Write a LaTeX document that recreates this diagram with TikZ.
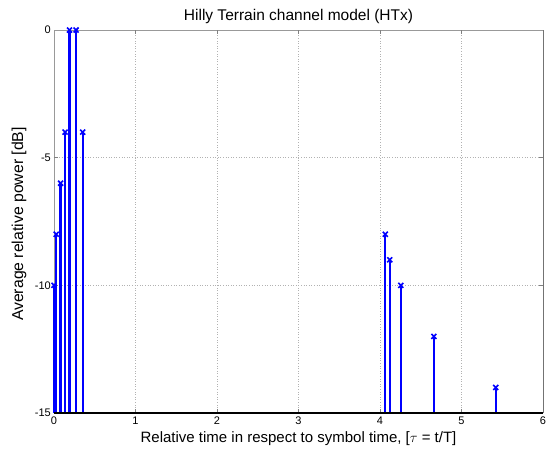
\documentclass[tikz,border=0pt]{standalone}
\usepackage{fontspec}
\setmainfont{Liberation Sans}
\usetikzlibrary{calc}
\begin{document}
\begin{tikzpicture}[x=81.5pt,y=25.53pt,
  gridline/.style={gray!60,dotted,line width=0.6pt},
  stemline/.style={blue,line width=2.3pt},
  markx/.style={blue,line width=1.6pt},
  ticklab/.style={font=\fontsize{11}{13}\selectfont,inner sep=1pt},
  axlab/.style={font=\fontsize{15}{18}\selectfont,inner sep=0pt}]
% origin at data point (0,-15); y coordinate = value + 15
\useasboundingbox (-54pt,-39pt) rectangle (492pt,413pt);
\fill[white] (-54pt,-39pt) rectangle (492pt,413pt);
% grid
\foreach \g in {1,...,5} \draw[gridline] (\g,0) -- (\g,15);
\foreach \g in {5,10} \draw[gridline] (0,\g) -- (6,\g);
% box
\coordinate (o) at (0,0);
\coordinate (tl) at (0,15);
\coordinate (tr) at (6,15);
\coordinate (br) at (6,0);
\draw[gray!80,line width=0.8pt] (o) -- (tl) -- (tr);
\draw[gray!90!black,line width=1pt] (tr) -- (br);
% ticks
\foreach \g in {1,...,5} {\draw[gray,line width=0.5pt] (\g,0) -- ++(0,4pt); \draw[gray,line width=0.5pt] (\g,15) -- ++(0,-4pt);}
\foreach \g in {5,10} {\draw[gray,line width=0.5pt] (0,\g) -- ++(4pt,0); \draw[gray,line width=0.5pt] (6,\g) -- ++(-4pt,0);}
% stems
\foreach \t/\v in {0/-10,0.027/-8,0.081/-6,0.136/-4,0.19/0,0.271/0,0.352/-4,4.065/-8,4.119/-9,4.255/-10,4.661/-12,5.42/-14} {
  \draw[stemline] (\t,0) -- (\t,\v+15);
  \draw[markx] ($(\t,\v+15)+(-2.5pt,-2.5pt)$) -- ++(5pt,5pt);
  \draw[markx] ($(\t,\v+15)+(-2.5pt,2.5pt)$) -- ++(5pt,-5pt);
}
\draw[black,line width=1.4pt] (o) -- (br);
% tick labels
\foreach \g in {0,...,6} \node[ticklab,anchor=north] (xt\g) at (\g,-3pt) {\g};
\foreach \g/\l in {0/-15,5/-10,10/-5} \node[ticklab,anchor=east] (yt\g) at (-2pt,\g) {\l};
\node[ticklab,anchor=east] (yt15) at (-2pt,15) {0};
% labels
\node[axlab,font=\fontsize{15.5}{18}\selectfont] (title) at (3,15.55) {Hilly Terrain channel model (HTx)};
\node[axlab] (xlab) at (3,-1.02) {Relative time in respect to symbol time, [$\tau$ = t/T]};
\node[axlab,rotate=90,font=\fontsize{15.8}{18}\selectfont] (ylab) at (-35pt,7.4) {Average relative power [dB]};
\end{tikzpicture}
\end{document}
